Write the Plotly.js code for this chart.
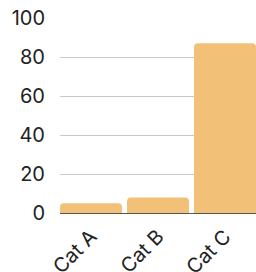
<!DOCTYPE html>
<html><head><meta charset="utf-8">
<script src="https://cdn.plot.ly/plotly-3.0.1.min.js"></script>
<style>html,body{margin:0;padding:0;background:#fff;}#chart{width:256px;height:272px;}</style>
</head><body><div id="chart"></div>
<script>
const categories = ["Cat A", "Cat B", "Cat C"];
const values = [5, 8, 87];
const yTicks = [0, 20, 40, 60, 80, 100];

Plotly.newPlot("chart", [{
  type: "bar",
  x: categories,
  y: values,
  marker: {color: "#F2C077"},
  hoverinfo: "none"
}], {
  width: 256, height: 272,
  margin: {l: 60, r: 0, t: 18, b: 59},
  paper_bgcolor: "#fff", plot_bgcolor: "#fff",
  bargap: 0.075,
  barcornerradius: 4,
  font: {family: "Inter, 'Open Sans', sans-serif", size: 20, color: "#222"},
  xaxis: {range: [-0.463, 2.463], tickangle: -45, showgrid: false, ticks: "", fixedrange: true,
          ticklabelstandoff: 7, automargin: false},
  yaxis: {range: [0, 100], tickvals: yTicks, gridcolor: "#c8c8c8", gridwidth: 1,
          zeroline: true, zerolinecolor: "#555", zerolinewidth: 1, ticks: "", fixedrange: true,
          ticklabelstandoff: 14, automargin: false},
  showlegend: false
}, {displayModeBar: false, staticPlot: true});
</script></body></html>
